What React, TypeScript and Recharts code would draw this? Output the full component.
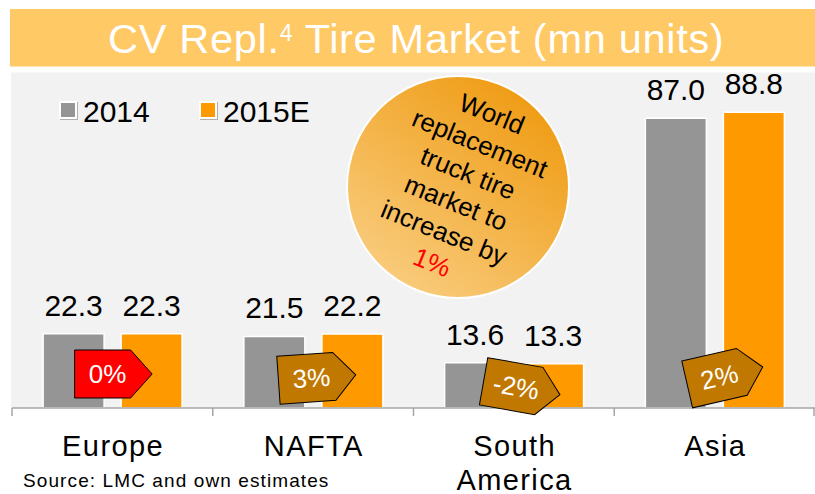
import React from 'react';
import { BarChart, Bar, XAxis, YAxis, LabelList, Legend } from 'recharts';

// ---------- data ----------
const categories = ['Europe', 'NAFTA', 'South\nAmerica', 'Asia'];
const values2014 = [22.3, 21.5, 13.6, 87.0];
const values2015E = [22.3, 22.2, 13.3, 88.8];
const growthLabels = ['0%', '3%', '-2%', '2%'];
const seriesNames = ['2014', '2015E'];
const titleMain = 'CV Repl.';
const titleSup = '4';
const titleRest = ' Tire Market (mn units)';
const bubbleLines = ['World', 'replacement', 'truck tire', 'market to', 'increase by'];
const bubbleHighlight = '1%';
const sourceText = 'Source: LMC and own estimates';

// ---------- styles ----------
const FONT = '"Liberation Sans", Arial, Helvetica, sans-serif';
const W = 815;
const H = 494;
const MARGIN = { top: 75, right: 0, left: 12, bottom: 0 };
const AXIS_H = 86;
const BAR_GAP = 17;
const PLOT_W = W - MARGIN.left - MARGIN.right;
const GRAY = '#959595';
const ORANGE = '#FF9900';
const AXIS_COLOR = '#A6A6A6';
const arrowStyles = [
  { fill: '#FF0000', dx: -5, dy: -34, rot: 0 },
  { fill: '#C07800', dx: -2, dy: -30, rot: -4 },
  { fill: '#C07800', dx: 2, dy: -21, rot: 10 },
  { fill: '#C07800', dx: 4.5, dy: -31, rot: -13 },
];

const data = categories.map((name, i) => ({
  name,
  v2014: values2014[i],
  v2015: values2015E[i],
  growth: growthLabels[i],
}));

function box(props: any) {
  const vb = props.viewBox || {};
  return {
    x: Number(props.x ?? vb.x),
    y: Number(props.y ?? vb.y),
    width: Number(props.width ?? vb.width),
    height: Number(props.height ?? vb.height),
  };
}

function ValueLabel(props: any) {
  const { x, y, width } = box(props);
  return (
    <text
      x={x + width / 2}
      y={y - 18}
      textAnchor="middle"
      fontSize={30}
      fontFamily={FONT}
      fill="#000"
    >
      {Number(props.value).toFixed(1)}
    </text>
  );
}

function GrowthArrow(props: any) {
  const { x, y, height } = box(props);
  const i = Number(props.index);
  const s = arrowStyles[i];
  const cx = x - BAR_GAP / 2 + s.dx;
  const cy = y + height + s.dy;
  const pts = '-33,-24 23,-24 44.5,0 23,24 -33,24';
  return (
    <g transform={`translate(${cx} ${cy}) rotate(${s.rot})`}>
      <polygon points={pts} fill={s.fill} stroke="#000" strokeWidth={1} />
      <text x={0} y={9} textAnchor="middle" fontSize={26} fontFamily={FONT} fill="#fff">
        {props.value}
      </text>
    </g>
  );
}

function CategoryTick(props: any) {
  const { x, y, payload, index } = props;
  const band = PLOT_W / categories.length;
  const lines = String(payload.value).split('\n');
  const isLast = index === categories.length - 1;
  return (
    <g>
      <line x1={x - band / 2} x2={x - band / 2} y1={y} y2={y + 8} stroke={AXIS_COLOR} strokeWidth={1.5} />
      {isLast && (
        <line x1={x + band / 2 - 1} x2={x + band / 2 - 1} y1={y} y2={y + 8} stroke={AXIS_COLOR} strokeWidth={1.5} />
      )}
      <text
        x={x}
        y={y + 48}
        textAnchor="middle"
        fontSize={29}
        fontFamily={FONT}
        fill="#000"
        letterSpacing={1.4}
      >
        {lines.map((l, k) => (
          <tspan key={k} x={x + 0.7} dy={k === 0 ? 0 : 34}>
            {l}
          </tspan>
        ))}
      </text>
    </g>
  );
}

function LegendContent(props: any) {
  const payload = props.payload || [];
  return (
    <div style={{ position: 'relative', width: 400, height: 140 }}>
      {payload.map((p: any, i: number) => (
        <div key={i}>
          <div
            style={{
              position: 'absolute',
              left: 59 + i * 140,
              top: 101,
              width: 14,
              height: 14,
              background: p.color,
              border: '2px solid #fff',
              boxShadow: '1px 1px 0 #b0b0b0',
            }}
          />
          <div
            style={{
              position: 'absolute',
              left: 83 + i * 140,
              top: 96.6,
              fontSize: 30,
              lineHeight: '30px',
              fontFamily: FONT,
              color: '#000',
              whiteSpace: 'nowrap',
            }}
          >
            {p.value}
          </div>
        </div>
      ))}
    </div>
  );
}

export default function App() {
  const bcx = 462;
  const bcy = 188;
  const allBubble = [...bubbleLines, bubbleHighlight];
  return (
    <div style={{ position: 'absolute', left: 0, top: 0, width: W, height: H, background: '#fff', overflow: 'hidden' }}>
      <svg width={W} height={H} style={{ position: 'absolute', left: 0, top: 0 }}>
        <defs>
          <linearGradient id="bubbleGrad" x1="0.85" y1="0.08" x2="0.2" y2="0.95">
            <stop offset="0" stopColor="#EF9B12" />
            <stop offset="1" stopColor="#F9CC7E" />
          </linearGradient>
        </defs>
        <rect x={10} y={9} width={W - 10} height={57.5} fill="#FFC966" />
        <text x={108} y={52.5} fontSize={41.5} fontFamily={FONT} fill="#fff" letterSpacing={0.7}>
          {titleMain}
          <tspan fontSize={23} dy={-12}>{titleSup}</tspan>
          <tspan dy={12}>{titleRest}</tspan>
        </text>
        <rect x={11} y={72.5} width={W - 11} height={335.5} fill="#F2F2F2" />
        <circle cx={458} cy={187} r={111} fill="url(#bubbleGrad)" stroke="#fff" strokeWidth={2} />
        <g transform={`rotate(22 ${bcx} ${bcy})`}>
          {allBubble.map((l, i) => (
            <text
              key={i}
              x={bcx}
              y={bcy + (i - 2.5) * 32 + 9}
              textAnchor="middle"
              fontSize={26}
              fontFamily={FONT}
              fill={i === allBubble.length - 1 ? '#FF0000' : '#000'}
            >
              {l}
            </text>
          ))}
        </g>
        <text x={23} y={487} fontSize={19} fontFamily={FONT} fill="#000" letterSpacing={1.1}>
          {sourceText}
        </text>
      </svg>
      <div style={{ position: 'absolute', left: 0, top: 0 }}>
        <BarChart
          width={W}
          height={H}
          data={data}
          margin={MARGIN}
          barCategoryGap="15.5%"
          barGap={BAR_GAP}
        >
          <YAxis hide domain={[0, 100]} />
          <XAxis
            dataKey="name"
            height={AXIS_H}
            interval={0}
            axisLine={{ stroke: AXIS_COLOR, strokeWidth: 1.5 }}
            tickLine={false}
            tickSize={0}
            tickMargin={0}
            tick={<CategoryTick />}
          />
          <Legend
            layout="horizontal"
            verticalAlign="middle"
            align="center"
            wrapperStyle={{ left: 0, top: 0, width: 400, height: 140 }}
            content={<LegendContent />}
          />
          <Bar dataKey="v2014" name={seriesNames[0]} fill={GRAY} stroke="#fff" strokeWidth={1.5} isAnimationActive={false}>
            <LabelList dataKey="v2014" content={<ValueLabel />} />
          </Bar>
          <Bar dataKey="v2015" name={seriesNames[1]} fill={ORANGE} stroke="#fff" strokeWidth={1.5} isAnimationActive={false}>
            <LabelList dataKey="v2015" content={<ValueLabel />} />
            <LabelList dataKey="growth" content={<GrowthArrow />} />
          </Bar>
        </BarChart>
      </div>
    </div>
  );
}
